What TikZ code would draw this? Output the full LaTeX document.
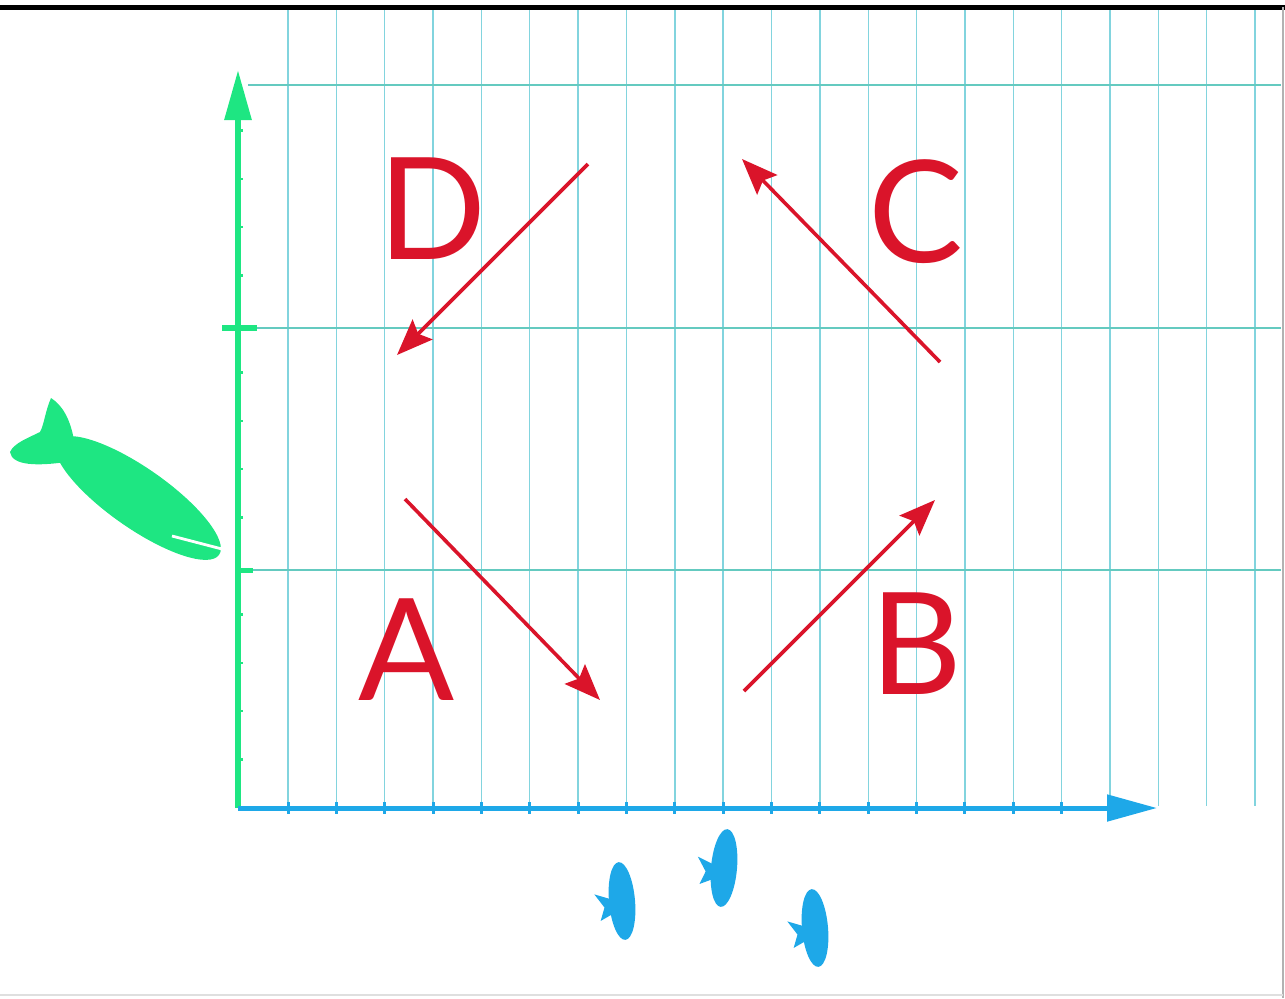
\documentclass[tikz,border=0pt]{standalone}
\usepackage{fontspec}
\setmainfont{Lato}
\usetikzlibrary{arrows.meta}

\definecolor{gridcyan}{RGB}{130,212,222}
\definecolor{gridteal}{RGB}{100,202,192}
\definecolor{vecred}{RGB}{218,20,42}
\definecolor{axisgreen}{RGB}{30,230,130}
\definecolor{axisblue}{RGB}{30,168,232}

\tikzset{
  gridline/.style={gridcyan, line width=0.7pt},
  vec/.style={vecred, line width=1.8pt, -{Stealth[length=18pt,width=14pt,inset=3pt]}},
  letter/.style={text=vecred, font=\fontsize{71}{71}\selectfont, inner sep=0pt},
}

\begin{document}
\begin{tikzpicture}[x=0.5pt,y=-0.5pt]
			\useasboundingbox (0,0) rectangle (1285,998);
			% paper edges
			\draw [line width=2.5pt] (0,7)--(1285,7);
			\draw [gray!60,line width=0.8pt] (1283,7)--(1283,998);
			\draw [gray!25,line width=0.8pt] (0,995)--(1283,995);

			% squared paper
			\foreach \k in {0,...,20}{
				\draw [gridline] ({288+48.35*\k},10)--({288+48.35*\k},806);
			}
			\foreach \y in {85,328,570}{
				\draw [gridline,gridteal] (248,\y)--(1281,\y);
			}

			% axes
			\coordinate (O) at (238,808);
			\coordinate (ytip) at (238,70);
			\coordinate (xtip) at (1157,808);
			\draw [-{Triangle[length=25pt,width=13pt]},color=axisgreen,line width=3pt] (O)--(ytip);
			\draw [-{Triangle[length=25pt,width=13pt]},color=axisblue,line width=2.5pt] (O)--(xtip);
			\foreach \k in {0,...,17}{
				\draw [axisblue,line width=1.5pt] ({288+48.35*\k},802)--++(0,12);
			}
			\foreach \k in {1,2,3,4,6,7,8,9,11,12,13,14}{
				\draw [axisgreen,line width=1.2pt] (238,{808-48.4*\k})--++(5,0);
			}
			\draw [axisgreen,line width=3pt] (222,328)--(257,328);
			\draw [axisgreen,line width=2.5pt] (238,570)--(253,570);

			% the four vectors
			\coordinate (a1) at (405,499); \coordinate (a2) at (600,700);
			\coordinate (b1) at (744,691); \coordinate (b2) at (935,500);
			\coordinate (c1) at (940,362); \coordinate (c2) at (742,159);
			\coordinate (d1) at (588,164); \coordinate (d2) at (397,355);
			\draw [vec] (a1)--(a2);
			\draw [vec] (b1)--(b2);
			\draw [vec] (c1)--(c2);
			\draw [vec] (d1)--(d2);
			\node [letter] (lblA) at (407,650) {A};
			\node [letter] (lblB) at (916,644) {B};
			\node [letter] (lblC) at (916,212) {C};
			\node [letter] (lblD) at (432,209) {D};

			% green fish by the vertical axis
			\fill [axisgreen] (74,440) .. controls (70,418) and (62,405) .. (51,398)
				.. controls (45,412) and (44,425) .. (40,432)
				.. controls (28,438) and (14,443) .. (10,452)
				.. controls (12,466) and (38,466) .. (66,462) -- cycle;
			\fill [axisgreen,rotate around={-35:(138,498)}] (138,498) ellipse [x radius=99, y radius=30];
			\draw [white,line width=1.4pt] (172,536)--(222,549);

			% blue fish under the horizontal axis
			\foreach \fx/\fy/\ang in {622/901/5, 724/868/-5, 815/928/5}{
				\begin{scope}[rotate around={\ang:(\fx,\fy)}]
					\fill [axisblue] (\fx,\fy) ellipse [x radius=13, y radius=39];
					\fill [axisblue] (\fx-9,\fy-2)--(\fx-27,\fy-9)--(\fx-18,\fy+5)--(\fx-23,\fy+18)--(\fx-8,\fy+11)--cycle;
				\end{scope}
			}
\end{tikzpicture}
\end{document}
